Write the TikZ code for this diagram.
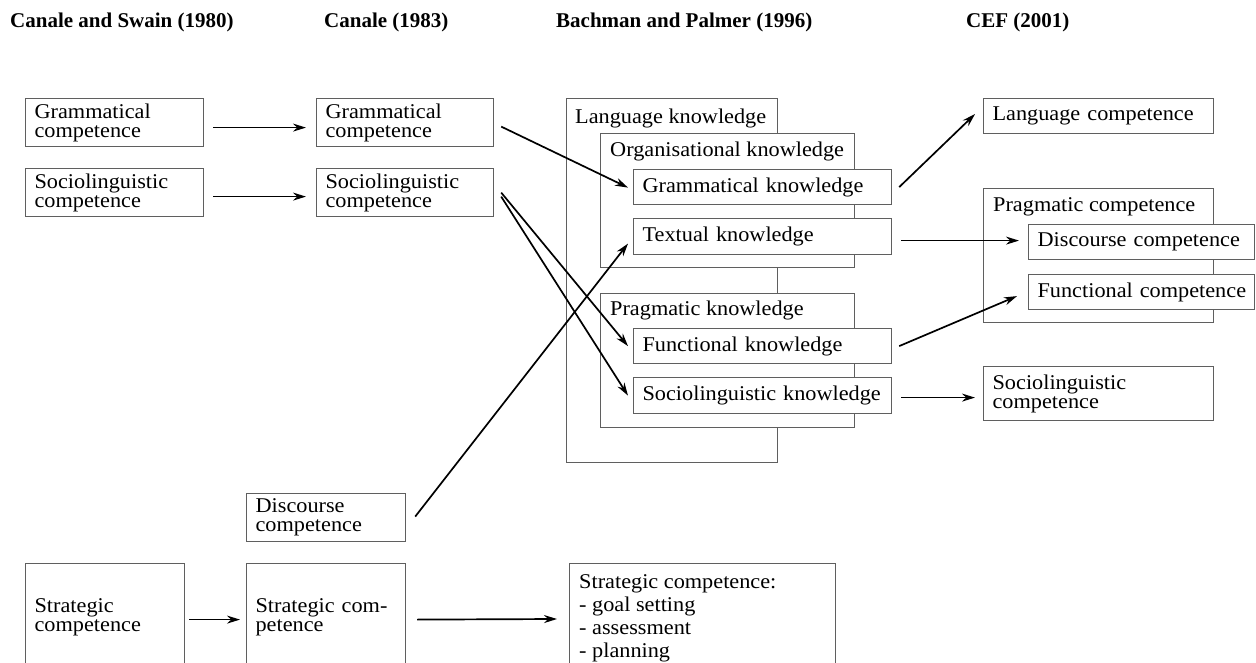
\documentclass[tikz,border=0pt]{standalone}
\usepackage{fontspec}
\usetikzlibrary{arrows.meta,calc}
\newfontfamily\serifx[FakeStretch=1.06]{Liberation Serif}
\newfontfamily\headx{Liberation Serif}
\newcommand\txtfnt{\serifx\fontsize{21}{19}\selectfont}
\newcommand\hdfnt{\headx\bfseries\fontsize{21}{24}\selectfont}
\definecolor{boxgray}{RGB}{95,95,95}
\begin{document}
\begin{tikzpicture}[x=1pt,y=-1pt,
  box/.style={draw=boxgray, fill=white, line width=1.2pt, anchor=north west,
    inner xsep=9pt, inner ysep=0pt, align=left, font=\txtfnt},
  cont/.style={draw=boxgray, fill=white, line width=1.2pt, anchor=north west,
    inner sep=0pt},
  lbl/.style={anchor=base west, inner sep=0pt, font=\txtfnt},
  head/.style={anchor=base west, inner sep=0pt, font=\hdfnt},
  arr/.style={draw=black, line width=1.7pt, -{Stealth[length=13pt,width=8pt]}}]
\useasboundingbox (0,0) rectangle (1256,663);
\clip (0,0) rectangle (1256,663);
\fill[white] (0,0) rectangle (1256,663);

% headers
\node[head] (h1) at (10,28) {Canale and Swain (1980)};
\node[head] (h2) at (324,28) {Canale (1983)};
\node[head] (h3) at (556,28) {Bachman and Palmer (1996)};
\node[head] (h4) at (966,28) {CEF (2001)};

% column 1
\node[box, text width=160pt, minimum height=48pt] (g1) at (25,98) {Grammatical\\competence};
\node[box, text width=160pt, minimum height=48pt] (s1) at (25,168) {Sociolinguistic\\competence};
\node[box, text width=141pt, minimum height=108pt] (st1) at (25,563) {Strategic\\competence};

% column 2
\node[box, text width=159pt, minimum height=48pt] (g2) at (316,98) {Grammatical\\competence};
\node[box, text width=159pt, minimum height=48pt] (s2) at (316,168) {Sociolinguistic\\competence};
\node[box, text width=141pt, minimum height=48pt] (dc2) at (246,493) {Discourse\\competence};
\node[box, text width=141pt, minimum height=108pt] (st2) at (246,563) {Strategic com-\\petence};

% column 3
\node[cont, minimum width=211pt, minimum height=364pt] (lk) at (566,98) {};
\node[lbl] (lkl) at ($(lk.north west)+(9,26)$) {Language knowledge};
\node[cont, minimum width=254pt, minimum height=134pt] (ok) at (600,133) {};
\node[lbl] (okl) at ($(ok.north west)+(10,24)$) {Organisational knowledge};
\node[box, text width=240pt, minimum height=35pt] (gk) at (633,169) {\mbox{Grammatical knowledge}};
\node[box, text width=240pt, minimum height=36pt] (tk) at (633,218) {\mbox{Textual knowledge}};
\node[cont, minimum width=254pt, minimum height=134pt] (pk) at (600,293) {};
\node[lbl] (pkl) at ($(pk.north west)+(10,23)$) {Pragmatic knowledge};
\node[box, text width=240pt, minimum height=35pt] (fk) at (633,328) {\mbox{Functional knowledge}};
\node[box, text width=240pt, minimum height=36pt] (sk) at (633,377) {\mbox{Sociolinguistic knowledge}};

\node[cont, minimum width=266pt, minimum height=130pt] (sl) at (569,563) {};
\node[anchor=north west, inner sep=0pt, align=left, font=\serifx\fontsize{21}{23}\selectfont] (slt)
  at ($(sl.north west)+(10,11)$) {Strategic competence:\\- goal setting\\- assessment\\- planning};

% column 4
\node[box, text width=212pt, minimum height=35pt] (lc) at (983,98) {\mbox{Language competence}};
\node[cont, minimum width=230pt, minimum height=134pt] (pc) at (983,188) {};
\node[lbl] (pcl) at ($(pc.north west)+(10,24)$) {Pragmatic competence};
\node[box, text width=208pt, minimum height=35pt] (dc4) at (1028,224) {\mbox{Discourse competence}};
\node[box, text width=208pt, minimum height=35pt] (fc) at (1028,274) {\mbox{Functional competence}};
\node[box, text width=212pt, minimum height=54pt] (sc4) at (983,366) {Sociolinguistic\\competence};

% arrows
\draw[arr] ($(g1.east)+(9,5)$) -- ($(g2.west)+(-10,5)$);
\draw[arr] ($(s1.east)+(9,4)$) -- ($(s2.west)+(-10,4)$);
\draw[arr] ($(st1.east)+(4,2)$) -- ($(st2.west)+(-6,2)$);
\draw[arr] ($(g2.east)+(7,4)$) -- ($(gk.west)+(-5,0.5)$);
\draw[arr] ($(s2.east)+(7,0)$) -- ($(fk.west)+(-5,0)$);
\draw[arr] ($(s2.east)+(7,4)$) -- ($(sk.west)+(-5,0)$);
\draw[arr] ($(dc2.east)+(9,-1)$) -- ($(tk.west)+(-5,7)$);
\draw[arr] ($(st2.east)+(11,2)$) -- ($(sl.north west)+(-12,56)$);
\draw[arr] ($(gk.east)+(7,0)$) -- ($(lc.west)+(-8,-2)$);
\draw[arr] ($(tk.east)+(9,4)$) -- ($(dc4.west)+(-9,-1.5)$);
\draw[arr] ($(fk.east)+(7,0)$) -- ($(fc.west)+(-11,4)$);
\draw[arr] ($(sk.east)+(9,2)$) -- ($(sc4.west)+(-8,4)$);
\end{tikzpicture}
\end{document}
